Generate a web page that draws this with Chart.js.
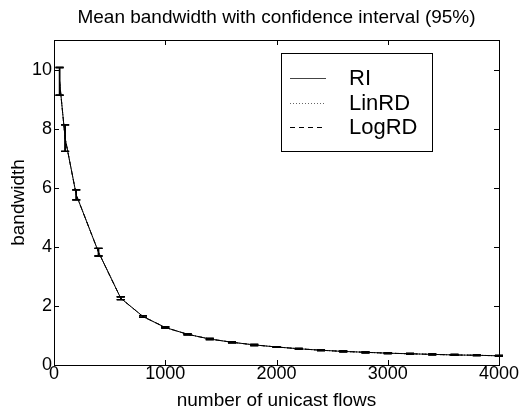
<!DOCTYPE html>
<html>
<head>
<meta charset="utf-8">
<script src="https://cdn.jsdelivr.net/npm/chart.js@4.4.1/dist/chart.umd.min.js"></script>
<style>
  body { margin: 0; background: #fff; }
  #wrap { width: 531px; height: 410px; }
</style>
</head>
<body>
<div id="wrap"><canvas id="bw" width="531" height="410"></canvas></div>
<script>
// number of unicast flows (x)
var flows = [50, 100, 200, 400, 600, 800, 1000, 1200, 1400, 1600, 1800, 2000,
             2200, 2400, 2600, 2800, 3000, 3200, 3400, 3600, 3800, 4000];

// mean bandwidth per series
var riMean    = [9.60, 7.68, 5.76, 3.82, 2.26, 1.64, 1.27, 1.04, 0.88, 0.77, 0.68, 0.61,
                 0.55, 0.50, 0.46, 0.43, 0.40, 0.38, 0.36, 0.34, 0.33, 0.31];
var linrdMean = [9.60, 7.68, 5.76, 3.82, 2.26, 1.64, 1.27, 1.04, 0.88, 0.77, 0.68, 0.61,
                 0.55, 0.50, 0.46, 0.43, 0.40, 0.38, 0.36, 0.34, 0.33, 0.31];
var logrdMean = [9.60, 7.68, 5.76, 3.82, 2.26, 1.64, 1.27, 1.04, 0.88, 0.77, 0.68, 0.61,
                 0.55, 0.50, 0.46, 0.43, 0.40, 0.38, 0.36, 0.34, 0.33, 0.31];

// half width of the 95% confidence interval
var riCI    = [0.47, 0.45, 0.17, 0.13, 0.05, 0.03, 0.025, 0.02, 0.02, 0.02, 0.02, 0.015,
               0.015, 0.015, 0.015, 0.015, 0.015, 0.015, 0.015, 0.015, 0.015, 0.015];
var linrdCI = [0.47, 0.45, 0.17, 0.13, 0.05, 0.03, 0.025, 0.02, 0.02, 0.02, 0.02, 0.015,
               0.015, 0.015, 0.015, 0.015, 0.015, 0.015, 0.015, 0.015, 0.015, 0.015];
var logrdCI = [0.47, 0.45, 0.17, 0.13, 0.05, 0.03, 0.025, 0.02, 0.02, 0.02, 0.02, 0.015,
               0.015, 0.015, 0.015, 0.015, 0.015, 0.015, 0.015, 0.015, 0.015, 0.015];

var xTicks = [0, 1000, 2000, 3000, 4000];
var yTicks = [0, 2, 4, 6, 8, 10];

var FONT = '"Liberation Sans", Arial, Helvetica, sans-serif';

function toPoints(ys) {
    return flows.map(function (x, i) { return {x: x, y: ys[i]}; });
}

// vertical error bars with caps, drawn through the chart scales
var errorBars = {
    id: 'errorBars',
    afterDatasetsDraw: function (chart) {
        var ctx = chart.ctx;
        var xs = chart.scales.x, ys = chart.scales.y;
        chart.data.datasets.forEach(function (ds, di) {
            if (!chart.isDatasetVisible(di) || !ds.ci) return;
            ctx.save();
            ctx.strokeStyle = '#000';
            ctx.lineWidth = 1.3;
            ds.data.forEach(function (p, i) {
                var px = xs.getPixelForValue(p.x);
                var top = ys.getPixelForValue(p.y + ds.ci[i]);
                var bot = ys.getPixelForValue(p.y - ds.ci[i]);
                ctx.beginPath();
                ctx.moveTo(px, top); ctx.lineTo(px, bot);
                ctx.moveTo(px - 4, top); ctx.lineTo(px + 4, top);
                ctx.moveTo(px - 4, bot); ctx.lineTo(px + 4, bot);
                ctx.stroke();
            });
            ctx.restore();
        });
    }
};

// center the title over the plot box, like matlab does
var centerTitle = {
    id: 'centerTitle',
    afterLayout: function (chart) {
        var tb = chart.titleBlock;
        if (tb) {
            tb.left = chart.chartArea.left;
            tb.right = chart.chartArea.right;
            tb.width = tb.right - tb.left;
        }
    }
};

// matlab style box with inward ticks on all sides + legend box
var boxAndLegend = {
    id: 'boxAndLegend',
    afterDraw: function (chart) {
        var ctx = chart.ctx, a = chart.chartArea;
        var xs = chart.scales.x, ys = chart.scales.y;
        ctx.save();
        ctx.strokeStyle = '#000';
        ctx.lineWidth = 1;
        ctx.beginPath();
        xTicks.forEach(function (v) {
            var px = Math.round(xs.getPixelForValue(v)) + 0.5;
            ctx.moveTo(px, a.bottom); ctx.lineTo(px, a.bottom - 5);
            ctx.moveTo(px, a.top); ctx.lineTo(px, a.top + 5);
        });
        yTicks.forEach(function (v) {
            var py = Math.round(ys.getPixelForValue(v)) + 0.5;
            ctx.moveTo(a.left, py); ctx.lineTo(a.left + 5, py);
            ctx.moveTo(a.right, py); ctx.lineTo(a.right - 5, py);
        });
        ctx.stroke();
        ctx.strokeRect(Math.round(a.left) + 0.5, Math.round(a.top) + 0.5,
                       Math.round(a.right - a.left), Math.round(a.bottom - a.top));

        // legend
        var lx = 281, ly = 53, lw = 151, lh = 98;
        ctx.fillStyle = '#fff';
        ctx.fillRect(lx, ly, lw, lh);
        ctx.strokeRect(lx + 0.5, ly + 0.5, lw, lh);
        ctx.font = '22px ' + FONT;
        ctx.textBaseline = 'middle';
        ctx.textAlign = 'left';
        chart.data.datasets.forEach(function (ds, i) {
            var y = 78 + i * 24.5;
            ctx.beginPath();
            ctx.setLineDash(ds.borderDash || []);
            ctx.strokeStyle = ds.legendColor;
            ctx.lineWidth = 1;
            ctx.moveTo(290, Math.round(y) + 0.5);
            ctx.lineTo(326, Math.round(y) + 0.5);
            ctx.stroke();
            ctx.setLineDash([]);
            ctx.fillStyle = '#000';
            ctx.fillText(ds.label, 349, y + 1);
        });
        ctx.restore();
    }
};

function plainTick(value) { return String(value); }

new Chart(document.getElementById('bw'), {
    type: 'line',
    data: {
        datasets: [{
            label: 'RI',
            data: toPoints(riMean),
            ci: riCI,
            borderColor: '#000',
            legendColor: '#444',
            borderWidth: 1,
            pointRadius: 0,
            tension: 0
        }, {
            label: 'LinRD',
            data: toPoints(linrdMean),
            ci: linrdCI,
            borderColor: '#000',
            legendColor: '#666',
            borderWidth: 1,
            borderDash: [1, 2],
            pointRadius: 0,
            tension: 0
        }, {
            label: 'LogRD',
            data: toPoints(logrdMean),
            ci: logrdCI,
            borderColor: '#000',
            legendColor: '#000',
            borderWidth: 1,
            borderDash: [5, 4],
            pointRadius: 0,
            tension: 0
        }]
    },
    options: {
        responsive: false,
        animation: false,
        layout: { padding: { left: 0, right: 32, top: 0, bottom: 0 } },
        plugins: {
            legend: { display: false },
            tooltip: { enabled: false },
            title: {
                display: true,
                text: 'Mean bandwidth with confidence interval (95%)',
                color: '#000',
                font: { family: FONT, size: 19, weight: 'normal', lineHeight: 1.2 },
                padding: { top: 6.6, bottom: 10.6 }
            }
        },
        scales: {
            x: {
                type: 'linear',
                min: 0,
                max: 4000,
                afterFit: function (scale) { scale.height = 45; },
                afterBuildTicks: function (scale) {
                    scale.ticks = xTicks.map(function (v) { return {value: v}; });
                },
                grid: { display: false, drawTicks: false, tickLength: 0 },
                border: { display: false },
                ticks: {
                    color: '#000',
                    padding: 0,
                    maxRotation: 0,
                    callback: plainTick,
                    font: { family: FONT, size: 18, lineHeight: 1 }
                },
                title: {
                    display: true,
                    text: 'number of unicast flows',
                    color: '#000',
                    font: { family: FONT, size: 19, lineHeight: 1 },
                    padding: 0
                }
            },
            y: {
                min: 0,
                max: 11,
                afterFit: function (scale) { scale.width = 54; },
                afterBuildTicks: function (scale) {
                    scale.ticks = yTicks.map(function (v) { return {value: v}; });
                },
                grid: { display: false, drawTicks: false, tickLength: 0 },
                border: { display: false },
                ticks: {
                    color: '#000',
                    padding: 2,
                    callback: plainTick,
                    font: { family: FONT, size: 18 }
                },
                title: {
                    display: true,
                    text: 'bandwidth',
                    color: '#000',
                    font: { family: FONT, size: 19, lineHeight: 1.2 },
                    padding: { top: 7, bottom: 0 }
                }
            }
        }
    },
    plugins: [centerTitle, errorBars, boxAndLegend]
});
</script>
</body>
</html>
